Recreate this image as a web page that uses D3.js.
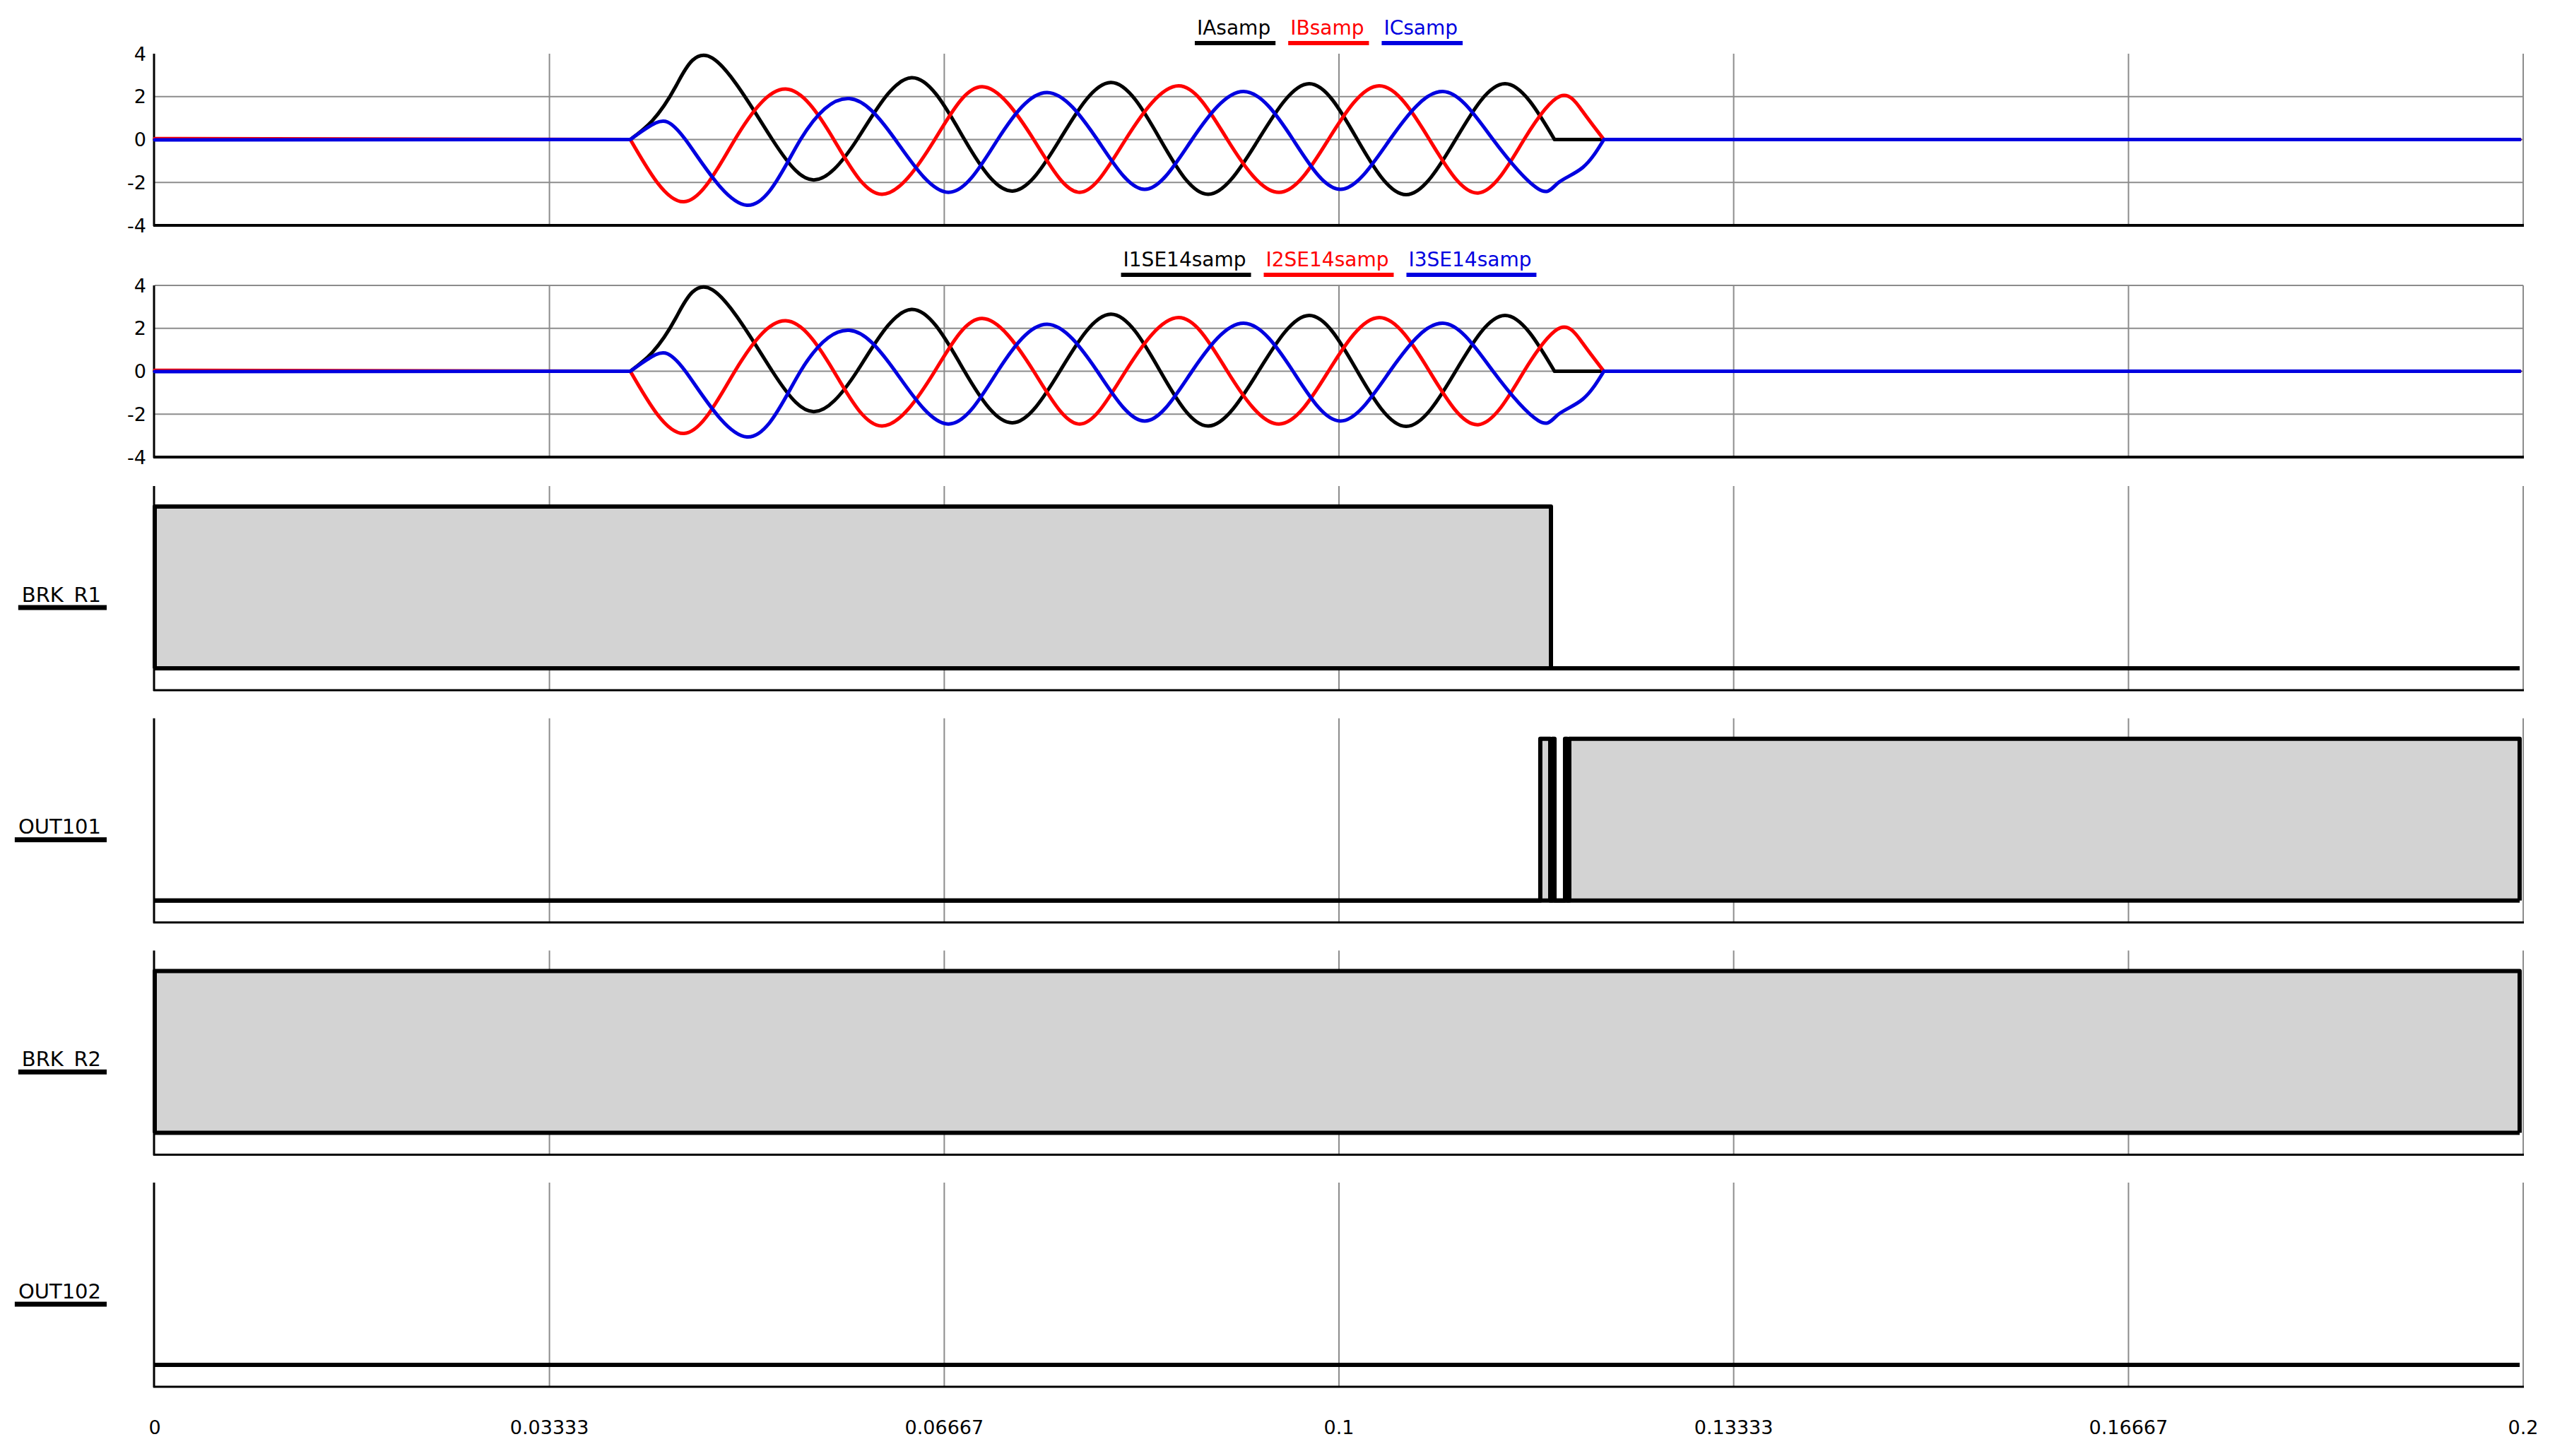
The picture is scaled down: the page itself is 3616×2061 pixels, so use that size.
<!DOCTYPE html>
<html>
<head>
<meta charset="utf-8">
<script src="https://cdn.jsdelivr.net/npm/d3@7"></script>
<style>
body { margin: 0; background: #fff; }
text { font-family: "DejaVu Sans", sans-serif; }
</style>
</head>
<body>
<script>
// ---- data ----
var timeTicks = [0, 0.03333, 0.06667, 0.1, 0.13333, 0.16667, 0.2];
var timeLabels = ["0", "0.03333", "0.06667", "0.1", "0.13333", "0.16667", "0.2"];
var ampTicks = [-4, -2, 0, 2, 4];

var analogNames1 = ["IAsamp", "IBsamp", "ICsamp"];
var analogNames2 = ["I1SE14samp", "I2SE14samp", "I3SE14samp"];
var phaseColors = ["#000000", "#ff0000", "#0000e0"];

// [time s, current] : prefault, peaks / zero crossings, postfault
var phaseA = [[0, 0], [0.04016, 0], [0.04200, 0.87], [0.04403, 2.51], [0.04708, 3.80], [0.05215, 0],
  [0.05573, -1.88], [0.05931, 0], [0.06390, 2.88], [0.06838, 0], [0.07243, -2.40], [0.07643, 0],
  [0.08073, 2.66], [0.08491, 0], [0.08896, -2.55], [0.09320, 0], [0.09749, 2.60], [0.10155, 0],
  [0.10567, -2.57], [0.10985, 0], [0.11402, 2.60], [0.11820, 0], [0.1997, 0]];
var phaseB = [[0, 0.04], [0.04016, 0], [0.04469, -2.90], [0.04899, 0], [0.05328, 2.35], [0.05734, 0],
  [0.06140, -2.55], [0.06587, 0], [0.06987, 2.46], [0.07422, 0], [0.07810, -2.46], [0.08198, 0],
  [0.08646, 2.50], [0.09057, 0], [0.09493, -2.46], [0.09911, 0], [0.10340, 2.50], [0.10764, 0],
  [0.11175, -2.49], [0.11563, 0], [0.11868, 2.02], [0.12059, 1.30], [0.12237, 0], [0.1997, 0]];
var phaseC = [[0, -0.02], [0.04016, 0], [0.04230, 0.77], [0.04481, 0], [0.05000, -3.06], [0.05453, 0],
  [0.05865, 1.91], [0.06253, 0], [0.06700, -2.46], [0.07118, 0], [0.07536, 2.19], [0.07959, 0],
  [0.08359, -2.32], [0.08759, 0], [0.09194, 2.24], [0.09612, 0], [0.10012, -2.32], [0.10430, 0],
  [0.10877, 2.24], [0.11301, 0], [0.11683, -2.30], [0.11850, -2.02], [0.12059, -1.30], [0.12237, 0], [0.1997, 0]];

var digitalNames = ["BRK_R1", "OUT101", "BRK_R2", "OUT102"];
// [time s, state]
var brkR1 = [[0, 0], [0, 1], [0.1179, 0], [0.1997, 0]];
var out101 = [[0, 0], [0.11700, 1], [0.11784, 0], [0.11802, 1], [0.11820, 0], [0.11909, 1], [0.11927, 0], [0.11945, 1], [0.1997, 0]];
var brkR2 = [[0, 0], [0, 1], [0.1997, 0]];
var out102 = [[0, 0], [0.1997, 0]];

// ---- frame ----
var W = 3616, H = 2061;
var gridColor = "#8c8c8c";

var svg = d3.select("body").append("svg")
    .attr("width", W)
    .attr("height", H);
svg.append("rect").attr("width", W).attr("height", H).attr("fill", "#fff");

var x = d3.scaleLinear().domain([0, 0.2]).range([219, 3571]);

var analogPanels = [
  {top: 76, bottom: 319, names: analogNames1, topGrid: false},
  {top: 404, bottom: 647, names: analogNames2, topGrid: true}
];
var phases = [phaseA, phaseB, phaseC];
var digitalData = [brkR1, out101, brkR2, out102];

function frame(g, top, bottom, bottomWidth) {
  g.selectAll(".vgrid")
    .data(timeTicks.slice(1))
    .enter().append("line")
    .attr("x1", function(d) { return x(d); })
    .attr("x2", function(d) { return x(d); })
    .attr("y1", top).attr("y2", bottom)
    .attr("stroke", gridColor).attr("stroke-width", 2);
  g.append("line")
    .attr("x1", x(0) - 1).attr("x2", x(0) - 1)
    .attr("y1", top).attr("y2", bottom + 1)
    .attr("stroke", "#000").attr("stroke-width", 3);
  g.append("line")
    .attr("x1", x(0) - 2).attr("x2", x(0.2) + 1)
    .attr("y1", bottom).attr("y2", bottom)
    .attr("stroke", "#000").attr("stroke-width", bottomWidth);
}

// ---- analog panels ----
analogPanels.forEach(function(p) {
  var g = svg.append("g");
  var y = d3.scaleLinear().domain([-4, 4]).range([p.bottom, p.top]);

  g.selectAll(".hgrid")
    .data(ampTicks.filter(function(d) { return d > -4 && (d < 4 || p.topGrid); }))
    .enter().append("line")
    .attr("x1", x(0)).attr("x2", x(0.2))
    .attr("y1", function(d) { return y(d); })
    .attr("y2", function(d) { return y(d); })
    .attr("stroke", gridColor).attr("stroke-width", 2);

  frame(g, p.top, p.bottom, 4);

  g.selectAll(".ytick")
    .data(ampTicks)
    .enter().append("text")
    .attr("x", 207)
    .attr("y", function(d) { return y(d); })
    .attr("dy", "0.36em")
    .attr("text-anchor", "end")
    .attr("font-size", 27)
    .text(function(d) { return d; });

  var lin = d3.line().x(function(d) { return x(d[0]); }).y(function(d) { return y(d[1]); });
  var smooth = d3.line().curve(d3.curveNatural)
    .x(function(d) { return x(d[0]); }).y(function(d) { return y(d[1]); });

  phases.forEach(function(ph, i) {
    var n = ph.length;
    var pieces = [
      lin(ph.slice(0, 2)),
      smooth(ph.slice(1, n - 1)),
      lin(ph.slice(n - 2))
    ];
    g.append("path")
      .attr("d", pieces.join(""))
      .attr("fill", "none")
      .attr("stroke", phaseColors[i])
      .attr("stroke-width", 5)
      .attr("stroke-linejoin", "round")
      .attr("stroke-linecap", "round");
  });

  // legend with coloured underlines
  var base = p.top - 27;
  var lg = g.append("g");
  var cursor = 0;
  p.names.forEach(function(name, i) {
    var t = lg.append("text")
      .attr("x", cursor).attr("y", base)
      .attr("font-size", 28)
      .attr("fill", phaseColors[i])
      .text(name);
    var w = t.node().getComputedTextLength();
    lg.append("rect")
      .attr("x", cursor - 3).attr("y", base + 9)
      .attr("width", w + 10).attr("height", 6)
      .attr("fill", phaseColors[i]);
    cursor += w + 28;
  });
  var total = cursor - 28 + 7;
  lg.attr("transform", "translate(" + (1882 - total / 2) + ",0)");
});

// ---- digital panels ----
digitalData.forEach(function(dd, i) {
  var top = 688 + i * 328.7, bottom = top + 289;
  var g = svg.append("g");
  var y = d3.scaleLinear().domain([0, 1]).range([bottom - 31, top + 29]);

  frame(g, top, bottom, 3);

  g.append("path")
    .datum(dd)
    .attr("d", d3.area().curve(d3.curveStepAfter)
      .x(function(d) { return x(d[0]); })
      .y0(y(0))
      .y1(function(d) { return y(d[1]); }))
    .attr("fill", "#d3d3d3");

  // low-state baseline across the whole record
  g.append("line")
    .attr("x1", x(dd[0][0])).attr("x2", x(dd[dd.length - 1][0]))
    .attr("y1", y(0)).attr("y2", y(0))
    .attr("stroke", "#000").attr("stroke-width", 6);

  g.append("path")
    .datum(dd)
    .attr("d", d3.line().curve(d3.curveStepAfter)
      .x(function(d) { return x(d[0]); })
      .y(function(d) { return y(d[1]); }))
    .attr("fill", "none")
    .attr("stroke", "#000")
    .attr("stroke-width", 6)
    .attr("stroke-linejoin", "round");

  var base = (top + bottom) / 2 + 19;
  var t = g.append("text")
    .attr("x", 143).attr("y", base)
    .attr("text-anchor", "end")
    .attr("font-size", 29)
    .text(digitalNames[i]);
  var w = t.node().getComputedTextLength();
  g.append("rect")
    .attr("x", 143 - w - 5).attr("y", base + 5)
    .attr("width", w + 13).attr("height", 7)
    .attr("fill", "#000");
});

// ---- time axis labels ----
svg.selectAll(".xtick")
  .data(timeTicks)
  .enter().append("text")
  .attr("x", function(d) { return x(d); })
  .attr("y", 2030)
  .attr("text-anchor", "middle")
  .attr("font-size", 27)
  .text(function(d, i) { return timeLabels[i]; });
</script>
</body>
</html>
